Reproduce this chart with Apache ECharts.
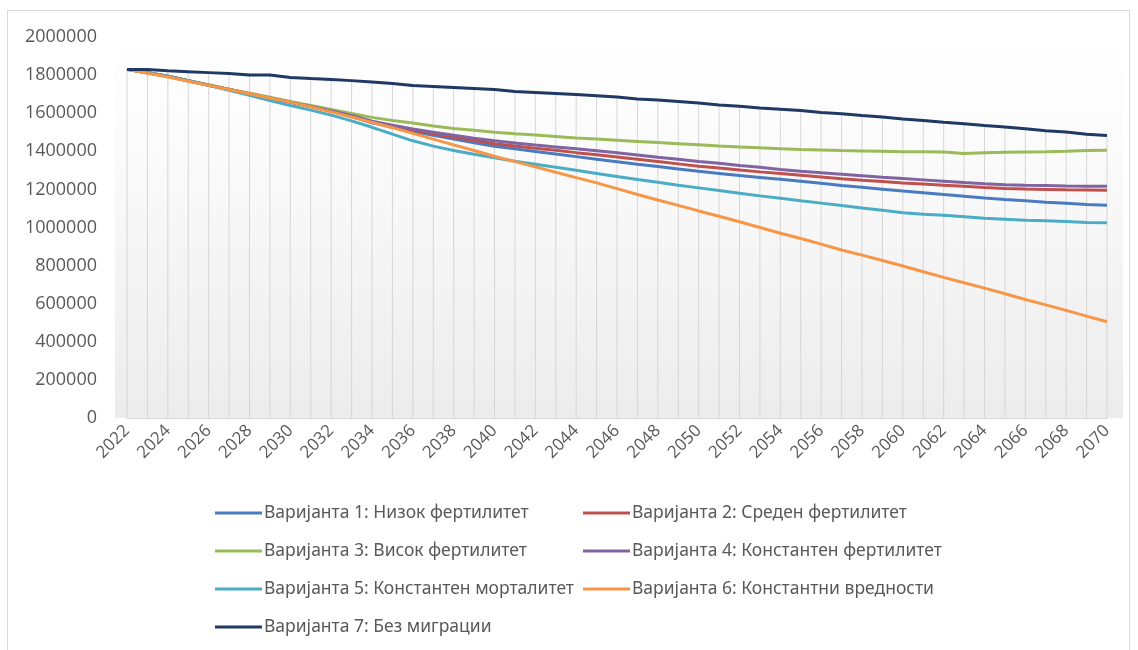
<!DOCTYPE html>
<html>
<head>
<meta charset="utf-8">
<script src="https://cdn.jsdelivr.net/npm/echarts@6/dist/echarts.min.js"></script>
<style>
  html, body { margin: 0; padding: 0; background: #ffffff; }
  #frame { position: absolute; left: 7px; top: 10px; width: 1123px; height: 645px; border: 1px solid #d9d9d9; box-sizing: border-box; }
  #chart { position: absolute; left: 0; top: 0; width: 1138px; height: 650px; }
</style>
</head>
<body>
<div id="frame"></div>
<div id="chart"></div>
<script>
const years = ['2022','2023','2024','2025','2026','2027','2028','2029','2030','2031','2032','2033','2034','2035','2036','2037','2038','2039','2040','2041','2042','2043','2044','2045','2046','2047','2048','2049','2050','2051','2052','2053','2054','2055','2056','2057','2058','2059','2060','2061','2062','2063','2064','2065','2066','2067','2068','2069','2070'];

const seriesNames = [
  'Варијанта 1: Низок фертилитет',
  'Варијанта 2: Среден фертилитет',
  'Варијанта 3: Висок фертилитет',
  'Варијанта 4: Константен фертилитет',
  'Варијанта 5: Константен морталитет',
  'Варијанта 6: Константни вредности',
  'Варијанта 7: Без миграции'
];

const variant1 = [1830000,1812000,1794000,1770000,1747000,1724000,1702000,1680000,1658000,1635000,1610000,1582000,1550000,1527000,1504000,1484000,1464000,1445000,1427000,1413000,1399000,1386000,1372000,1358000,1345000,1332000,1320000,1307000,1295000,1284000,1273000,1263000,1253000,1243000,1232000,1221000,1211000,1201000,1191000,1182000,1173000,1164000,1155000,1147000,1140000,1133000,1127000,1121000,1117000];
const variant2 = [1830000,1812000,1794000,1770000,1747000,1724000,1702000,1680000,1658000,1635000,1611000,1585000,1554000,1532000,1510000,1492000,1474000,1457000,1440000,1428000,1416000,1405000,1393000,1382000,1370000,1358000,1346000,1334000,1322000,1312000,1302000,1292000,1283000,1274000,1265000,1256000,1248000,1241000,1234000,1228000,1222000,1216000,1210000,1205000,1202000,1200000,1198000,1197000,1196000];
const variant3 = [1830000,1812000,1795000,1771000,1749000,1726000,1705000,1684000,1662000,1641000,1620000,1598000,1578000,1562000,1548000,1533000,1520000,1510000,1500000,1492000,1485000,1478000,1470000,1464000,1458000,1452000,1446000,1440000,1434000,1428000,1423000,1418000,1414000,1410000,1407000,1404000,1402000,1400000,1398000,1397000,1396000,1388000,1392000,1395000,1396000,1397000,1400000,1404000,1405000];
const variant4 = [1830000,1812000,1794000,1770000,1747000,1724000,1702000,1680000,1658000,1635000,1612000,1588000,1558000,1537000,1517000,1500000,1484000,1469000,1455000,1444000,1433000,1423000,1413000,1403000,1392000,1381000,1369000,1358000,1347000,1337000,1326000,1316000,1305000,1295000,1287000,1280000,1272000,1264000,1257000,1250000,1243000,1236000,1230000,1225000,1222000,1220000,1218000,1217000,1217000];
const variant5 = [1830000,1812000,1793000,1770000,1746000,1720000,1694000,1666000,1640000,1616000,1590000,1560000,1526000,1490000,1455000,1427000,1404000,1384000,1366000,1348000,1332000,1316000,1300000,1284000,1268000,1252000,1238000,1222000,1208000,1194000,1180000,1166000,1153000,1140000,1128000,1115000,1102000,1090000,1078000,1070000,1064000,1057000,1048000,1043000,1038000,1036000,1031000,1026000,1025000];
const variant6 = [1830000,1810000,1790000,1768000,1746000,1724000,1702000,1680000,1658000,1633000,1607000,1580000,1552000,1524000,1494000,1464000,1434000,1404000,1374000,1346000,1318000,1290000,1262000,1234000,1204000,1173000,1144000,1116000,1087000,1059000,1030000,1000000,970000,942000,913000,882000,855000,827000,798000,768000,738000,710000,682000,652000,622000,594000,565000,535000,505000];
const variant7 = [1830000,1829000,1823000,1818000,1813000,1808000,1800000,1800000,1788000,1782000,1777000,1771000,1764000,1756000,1745000,1740000,1735000,1730000,1724000,1714000,1709000,1704000,1698000,1692000,1685000,1675000,1669000,1662000,1653000,1643000,1637000,1627000,1621000,1614000,1604000,1597000,1588000,1580000,1569000,1562000,1552000,1545000,1536000,1528000,1518000,1508000,1501000,1490000,1483000];

const yTicks = { min: 0, max: 2000000, interval: 200000 };

const colors = ['#4a7bc0', '#c0504d', '#9bbb59', '#8064a2', '#4bacc6', '#f79646', '#1f3864'];
const allData = [variant1, variant2, variant3, variant4, variant5, variant6, variant7];

const chart = echarts.init(document.getElementById('chart'), null, { renderer: 'canvas' });

const lineSeries = allData.map((d, i) => ({
  name: seriesNames[i],
  type: 'line',
  data: d,
  symbol: 'none',
  smooth: false,
  z: 3,
  lineStyle: { width: 3, color: colors[i] },
  itemStyle: { color: colors[i] },
  emphasis: { disabled: true }
}));

const legendCommon = {
  orient: 'vertical',
  top: 503,
  padding: 0,
  icon: 'rect',
  itemWidth: 47,
  itemHeight: 3,
  itemGap: 18,
  selectedMode: false,
  textStyle: { fontFamily: 'Noto Sans', fontSize: 17.5, color: '#595959', lineHeight: 20, padding: [0, 0, 0, -3] }
};

chart.setOption({
  animation: false,
  color: colors,
  graphic: [{
    type: 'rect',
    z: -10,
    silent: true,
    shape: { x: 115, y: 30, width: 1008, height: 388 },
    style: {
      fill: new echarts.graphic.LinearGradient(0, 0, 0, 1, [
        { offset: 0, color: '#ffffff' },
        { offset: 0.35, color: '#fafafa' },
        { offset: 1, color: '#ececec' }
      ])
    }
  }],
  grid: { left: 127, right: 31, top: 37, bottom: 232, containLabel: false },
  legend: [
    Object.assign({}, legendCommon, { left: 215, data: [seriesNames[0], seriesNames[2], seriesNames[4], seriesNames[6]] }),
    Object.assign({}, legendCommon, { left: 583, data: [seriesNames[1], seriesNames[3], seriesNames[5]] })
  ],
  xAxis: {
    type: 'category',
    data: years,
    boundaryGap: false,
    axisLine: { show: true, lineStyle: { color: '#d9d9d9', width: 1 } },
    axisTick: { show: false },
    splitLine: { show: false },
    axisLabel: {
      interval: 1,
      rotate: 45,
      margin: 10,
      fontFamily: 'Open Sans',
      fontSize: 17,
      color: '#595959'
    }
  },
  yAxis: {
    type: 'value',
    min: yTicks.min,
    max: yTicks.max,
    interval: yTicks.interval,
    axisLine: { show: false },
    axisTick: { show: false },
    splitLine: { show: false },
    axisLabel: {
      margin: 30,
      fontFamily: 'Open Sans',
      fontSize: 18,
      color: '#595959',
      formatter: function (v) { return String(v); }
    }
  },
  series: [{
    name: 'drop',
    type: 'bar',
    data: variant7,
    barWidth: 1,
    z: 1,
    silent: true,
    legendHoverLink: false,
    itemStyle: { color: '#d6d6d6' },
    emphasis: { disabled: true }
  }].concat(lineSeries)
});
</script>
</body>
</html>
